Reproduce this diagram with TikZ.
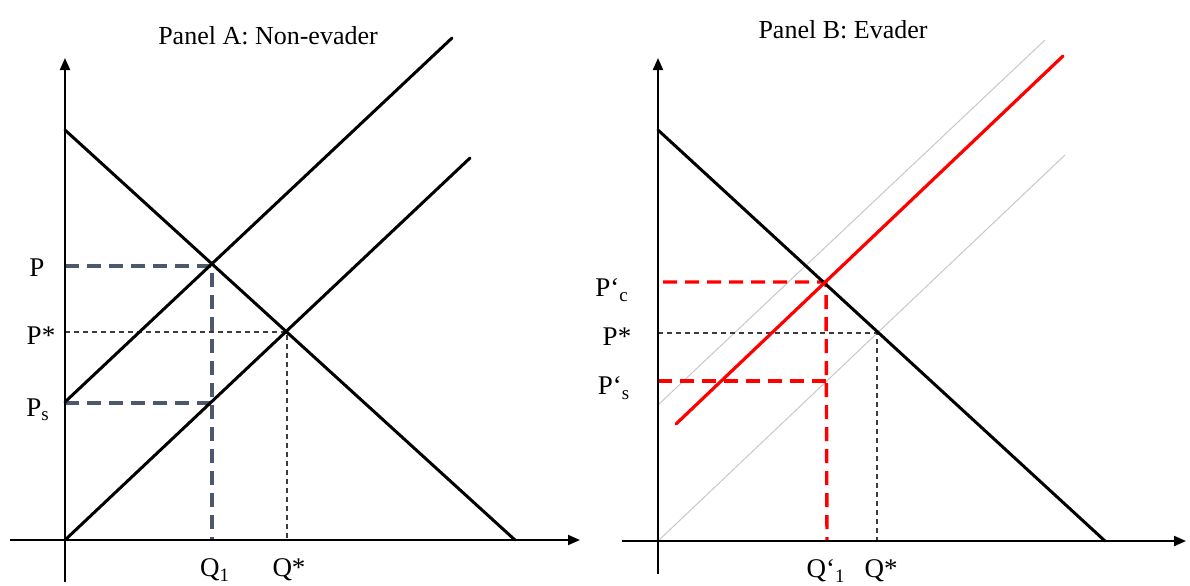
\documentclass[tikz,border=0pt]{standalone}
\usepackage{fontspec}
\setmainfont{Liberation Serif}
\usetikzlibrary{arrows.meta}
\definecolor{slate}{RGB}{78,88,108}
\definecolor{lightgray}{RGB}{200,200,200}
\definecolor{dashgray}{RGB}{60,60,60}
\tikzset{
  axis/.style={line width=1pt,-{Triangle[length=6pt,width=5pt]}},
  axisplain/.style={line width=1pt},
  curve/.style={line width=1.5pt,line cap=round},
  graycurve/.style={line width=0.5pt,draw=lightgray},
  redcurve/.style={line width=1.6pt,draw=red,line cap=round},
  bigdash/.style={line width=1.7pt,draw=slate,dash pattern=on 7pt off 4pt},
  reddash/.style={line width=1.7pt,draw=red,dash pattern=on 7pt off 4pt},
  thindash/.style={line width=0.6pt,draw=dashgray,dash pattern=on 2.5pt off 2pt},
  lab/.style={font=\fontsize{13.5}{15}\selectfont,inner sep=0pt},
  ttl/.style={font=\fontsize{13}{15}\selectfont,inner sep=0pt}
}
\begin{document}
\begin{tikzpicture}[x=0.5pt,y=-0.5pt]
\useasboundingbox (0,0) rectangle (1190,585);
% ---------- Panel A ----------
\node[ttl] (titleA) at (268,36) {Panel A: Non-evader};
\coordinate (A0) at (65,540);
\coordinate (AyB) at (65,582);
\coordinate (AyT) at (65,58);
\coordinate (AxL) at (10,540);
\coordinate (AxR) at (580,540);
\coordinate (AD1) at (65,130);
\coordinate (AD2) at (515,540);
\coordinate (AS1) at (470,158);
\coordinate (AS2a) at (65,402);
\coordinate (AS2b) at (452,38);
\coordinate (AE1) at (212,266);
\coordinate (AE0) at (287,332);
\coordinate (APy) at (65,266);
\coordinate (APsy) at (65,403);
\coordinate (APsx) at (212,403);
\coordinate (APstar) at (65,332);
\coordinate (AQ1) at (212,540);
\coordinate (AQs) at (287,540);
\draw[bigdash] (APy) -- (AE1) -- (AQ1);
\draw[bigdash] (APsy) -- (APsx);
\draw[thindash] (APstar) -- (AE0) -- (AQs);
\draw[axisplain] (AyB) -- (A0);
\draw[axis] (A0) -- (AyT);
\draw[axis] (AxL) -- (AxR);
\draw[curve] (AD1) -- (AD2);
\draw[curve] (A0) -- (AS1);
\draw[curve] (AS2a) -- (AS2b);
\node[lab] (lP) at (37,268) {P};
\node[lab] (lPstar) at (41,336) {P*};
\node[lab] (lPs) at (38,410) {P\textsubscript{s}};
\node[lab] (lQ1) at (215,570) {Q\textsubscript{1}};
\node[lab] (lQs) at (289,570) {Q*};
% ---------- Panel B ----------
\node[ttl] (titleB) at (843,30) {Panel B: Evader};
\coordinate (B0) at (658,541);
\coordinate (ByB) at (658,574);
\coordinate (ByT) at (658,58);
\coordinate (BxL) at (622,541);
\coordinate (BxR) at (1186,541);
\coordinate (BD1) at (658,130);
\coordinate (BD2) at (1105,541);
\coordinate (BG1) at (1065,155);
\coordinate (BG2a) at (658,405);
\coordinate (BG2b) at (1045,40);
\coordinate (BR1) at (676,424);
\coordinate (BR2) at (1063,56);
\coordinate (BE1) at (826,282);
\coordinate (BE0) at (877,333);
\coordinate (BPc) at (663,282);
\coordinate (BPsy) at (658,381);
\coordinate (BPsx) at (827,381);
\coordinate (BPstar) at (658,333);
\coordinate (BQ1) at (827,541);
\coordinate (BQs) at (877,541);
\draw[graycurve] (B0) -- (BG1);
\draw[graycurve] (BG2a) -- (BG2b);
\draw[reddash] (BPc) -- (BE1) -- (BQ1);
\draw[reddash] (BPsy) -- (BPsx);
\draw[thindash] (BPstar) -- (BE0) -- (BQs);
\draw[axisplain] (ByB) -- (B0);
\draw[axis] (B0) -- (ByT);
\draw[axis] (BxL) -- (BxR);
\draw[curve] (BD1) -- (BD2);
\draw[redcurve] (BR1) -- (BR2);
\node[lab] (lPc) at (612,290) {P‘\textsubscript{c}};
\node[lab] (lBPstar) at (617,337) {P*};
\node[lab] (lPs2) at (614,388) {P‘\textsubscript{s}};
\node[lab] (lQ1b) at (826,571) {Q‘\textsubscript{1}};
\node[lab] (lQsb) at (881,571) {Q*};
\end{tikzpicture}
\end{document}
